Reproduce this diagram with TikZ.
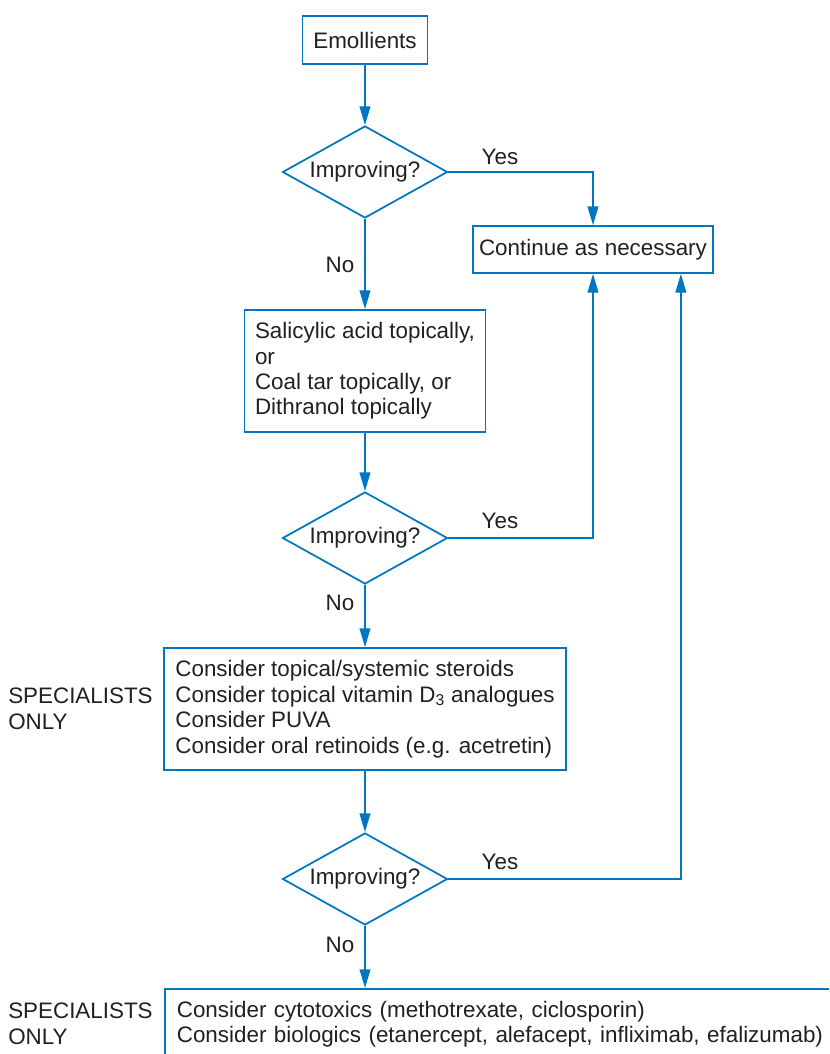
\documentclass[tikz,border=0pt]{standalone}
\usepackage{fontspec}
\setmainfont{Liberation Sans}
\usetikzlibrary{shapes.geometric,arrows.meta}
\definecolor{flowblue}{RGB}{0,118,194}
\definecolor{inkgrey}{RGB}{35,31,32}
\begin{document}
\begin{tikzpicture}[x=0.75pt,y=-0.75pt,
		font=\fontsize{16.8}{19.1}\selectfont,text=inkgrey,
		box/.style={draw=flowblue,line width=1.3pt,rectangle,inner sep=0pt},
		listbox/.style={box,align=left},
		ask/.style={draw=flowblue,line width=1.3pt,diamond,aspect=1.79,inner sep=0pt,minimum width=123.75pt,minimum height=69pt},
		flow/.style={draw=flowblue,line width=1.3pt,-{Triangle[length=14pt,width=8pt]}},
		tag/.style={inner sep=0pt}]
		\useasboundingbox (0,0) rectangle (829,1054);
		\clip (0,0) rectangle (829,1054);
		
		\node[box,minimum width=93.75pt,minimum height=36pt] (emol) at (365,40) {Emollients};
		\node[ask] (ask1) at (365,172) {Improving?};
		\node[box,minimum width=180pt,minimum height=35.25pt] (cont) at (593,249.5) {Continue as necessary};
		\node[listbox,minimum width=180.75pt,minimum height=91.5pt] (sal) at (365,371) {Salicylic acid topically,\\or\\Coal tar topically, or\\Dithranol topically};
		\node[ask] (ask2) at (365,538) {Improving?};
		\node[listbox,minimum width=301.5pt,minimum height=91.5pt] (cons) at (365,709) {Consider topical/systemic steroids\\Consider topical vitamin D\textsubscript{3} analogues\\Consider PUVA\\Consider oral retinoids (e.g. acetretin)};
		\node[ask] (ask3) at (365,879) {Improving?};
		\node[box,anchor=north west,align=left,text width=495pt,inner xsep=9pt,inner ysep=9pt,text depth=60pt] (bio) at (164,988) {Consider cytotoxics (methotrexate, ciclosporin)\\Consider biologics (etanercept, alefacept, infliximab, efalizumab)};
		
		\node[tag,anchor=west,align=left] (spec1) at (8,709) {SPECIALISTS\\ONLY};
		\node[tag,anchor=west,align=left] (spec2) at (8,1024) {SPECIALISTS\\ONLY};
		
		\node[tag] (yes1) at (500,157) {Yes};
		\node[tag] (no1) at (340,265) {No};
		\node[tag] (yes2) at (500,521) {Yes};
		\node[tag] (no2) at (340,603) {No};
		\node[tag] (yes3) at (500,862) {Yes};
		\node[tag] (no3) at (340,945) {No};
		
		\draw[flow] (emol.south) -- (ask1.north);
		\draw[flow] (ask1.east) -| (cont.north);
		\draw[flow] (ask1.south) -- (sal.north);
		\draw[flow] (sal.south) -- (ask2.north);
		\draw[flow] (ask2.east) -| (cont.south);
		\draw[flow] (ask2.south) -- (cons.north);
		\draw[flow] (cons.south) -- (ask3.north);
		\draw[flow] (ask3.east) -| ([xshift=-24.75pt]cont.south east);
		\draw[flow] (ask3.south) -- (ask3.south |- bio.north);
	\end{tikzpicture}
\end{document}
